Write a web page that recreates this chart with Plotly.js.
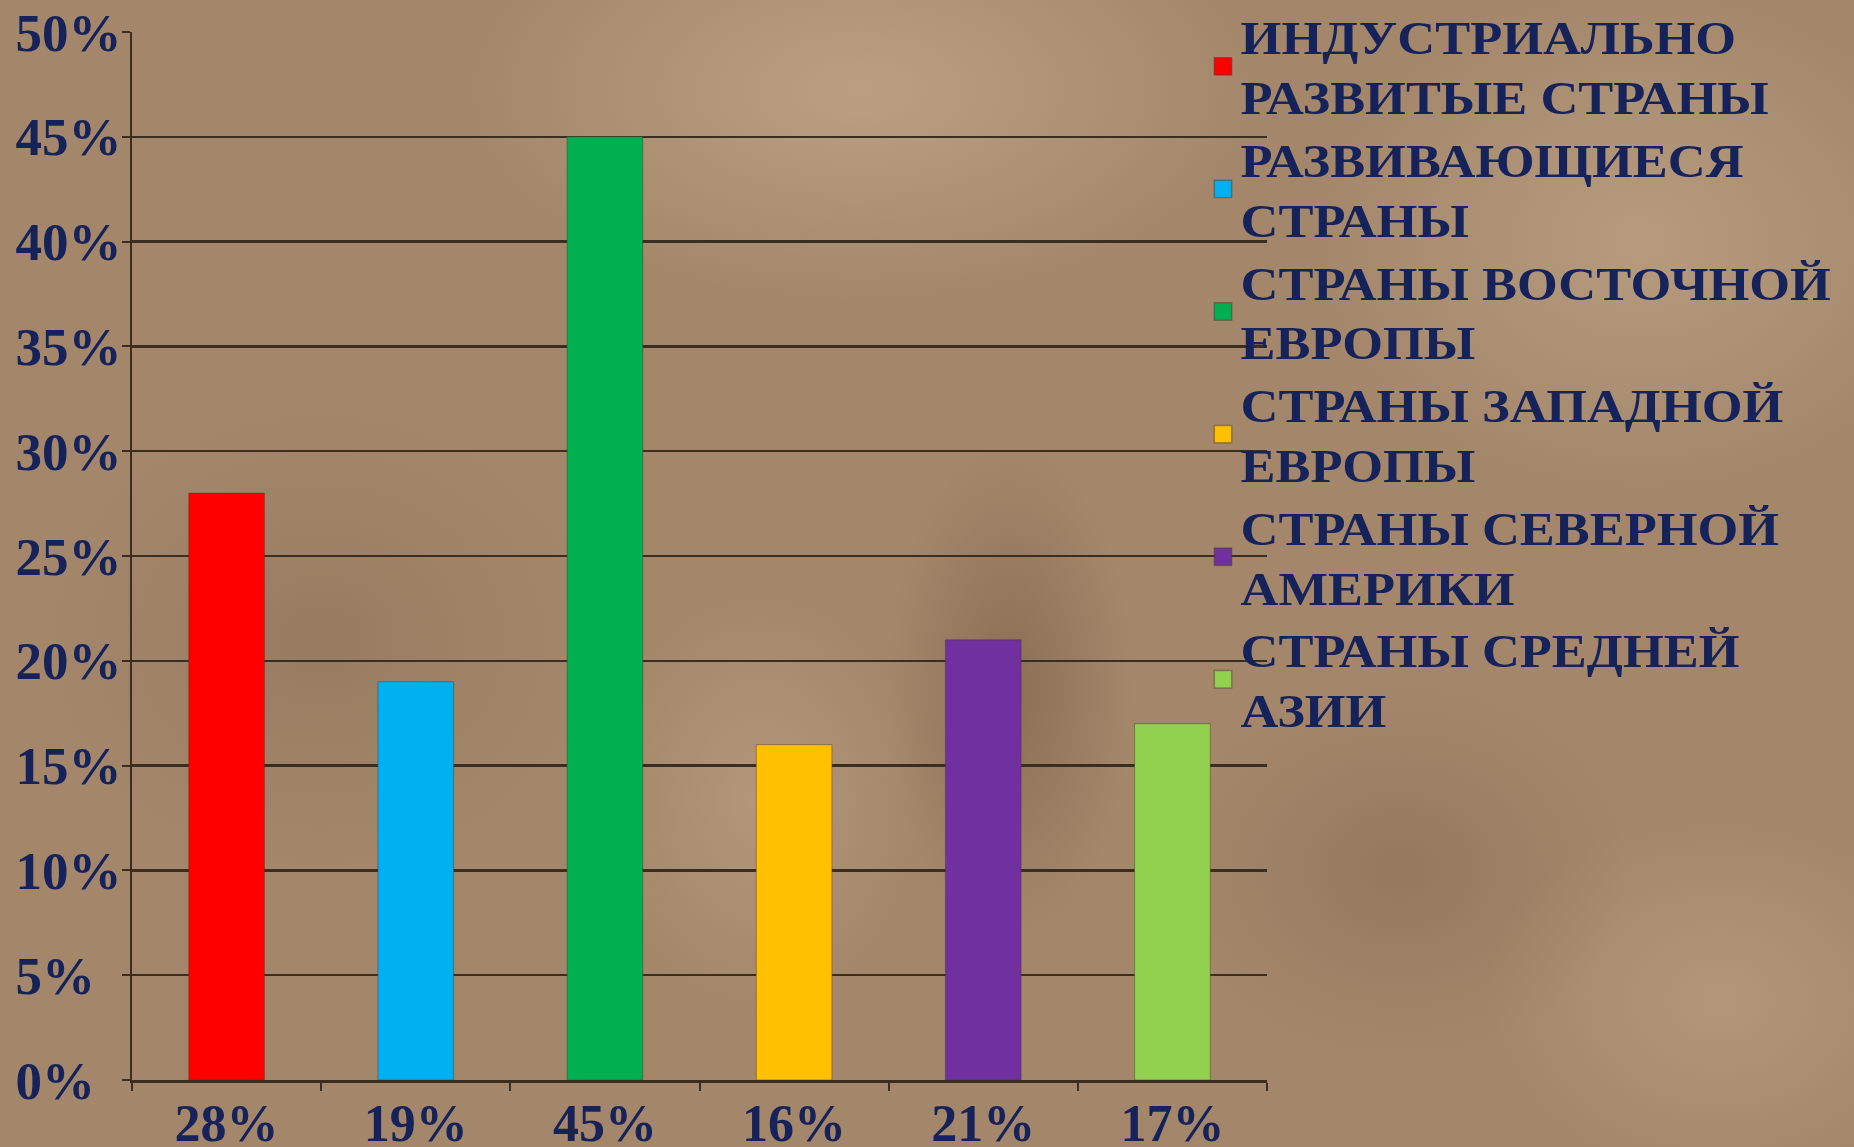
<!DOCTYPE html>
<html>
<head>
<meta charset="utf-8">
<script src="https://cdn.plot.ly/plotly-3.0.1.min.js"></script>
<style>
  html, body { margin: 0; padding: 0; }
  body {
    width: 1854px; height: 1147px; overflow: hidden;
    /* rough suede / paper look of the slide */
    background:
      radial-gradient(ellipse 560px 300px at 860px 90px, rgba(205,180,150,0.55), rgba(205,180,150,0) 72%),
      radial-gradient(ellipse 460px 360px at 1640px 240px, rgba(200,175,145,0.5), rgba(200,175,145,0) 72%),
      radial-gradient(ellipse 170px 340px at 1010px 690px, rgba(85,60,40,0.32), rgba(85,60,40,0) 72%),
      radial-gradient(ellipse 320px 260px at 1400px 870px, rgba(95,70,50,0.22), rgba(95,70,50,0) 72%),
      radial-gradient(ellipse 230px 300px at 760px 800px, rgba(200,175,145,0.4), rgba(200,175,145,0) 72%),
      radial-gradient(ellipse 380px 320px at 320px 640px, rgba(115,90,66,0.25), rgba(115,90,66,0) 72%),
      radial-gradient(ellipse 330px 260px at 1720px 1000px, rgba(200,175,145,0.4), rgba(200,175,145,0) 72%),
      #a4876b;
  }
  #chart { width: 1854px; height: 1147px; }
  /* the slide text is a bit wider than Liberation Serif */
  .legend .legendtext { transform: scaleX(1.14); }
  .legend [clip-path] { clip-path: none !important; }
  .legend .legendpoints path { transform: translate(28px, 0px) scale(1.45); }
</style>
</head>
<body>
<div id="chart"></div>
<script>
/* chart data */
var categories = ['28%', '19%', '45%', '16%', '21%', '17%'];
var values = [28, 19, 45, 16, 21, 17];
var seriesNames = [
    'ИНДУСТРИАЛЬНО<br>РАЗВИТЫЕ СТРАНЫ',
    'РАЗВИВАЮЩИЕСЯ<br>СТРАНЫ',
    'СТРАНЫ ВОСТОЧНОЙ<br>ЕВРОПЫ',
    'СТРАНЫ ЗАПАДНОЙ<br>ЕВРОПЫ',
    'СТРАНЫ СЕВЕРНОЙ<br>АМЕРИКИ',
    'СТРАНЫ СРЕДНЕЙ<br>АЗИИ'
];
var barColors = ['#ff0000', '#00b0f0', '#00b050', '#ffc000', '#7030a0', '#92d050'];
var yTickVals = [0, 5, 10, 15, 20, 25, 30, 35, 40, 45, 50];
// figure space keeps the one digit labels flush left like the original
var yTickText = ['0%\u2007', '5%\u2007', '10%', '15%', '20%', '25%', '30%', '35%', '40%', '45%', '50%'];

const NAVY = '#15235a';
const LINE = '#3a2e22';
const FONT = 'Liberation Serif, serif';

var traces = [];
for (var i = 0; i < categories.length; i++) {
    traces.push({
        type: 'bar',
        x: [categories[i]],
        y: [values[i]],
        name: seriesNames[i],
        width: 0.4,
        marker: {color: barColors[i], line: {color: 'rgba(70,55,40,0.45)', width: 1}},
        hoverinfo: 'skip'
    });
}

var layout = {
    width: 1854,
    height: 1147,
    margin: {l: 132, r: 587, t: 32, b: 67, autoexpand: false},
    paper_bgcolor: 'rgba(0,0,0,0)',
    plot_bgcolor: 'rgba(0,0,0,0)',
    barmode: 'overlay',
    font: {family: FONT, color: NAVY},
    xaxis: {
        type: 'category',
        categoryorder: 'array',
        categoryarray: categories,
        showline: true,
        linecolor: LINE,
        linewidth: 3,
        ticks: 'outside',
        tickson: 'boundaries',
        ticklen: 8,
        tickwidth: 2,
        tickcolor: LINE,
        showgrid: false,
        ticklabelstandoff: -4,
        tickfont: {size: 52, weight: 'bold', color: NAVY, family: FONT}
    },
    yaxis: {
        range: [0, 50],
        tickvals: yTickVals,
        ticktext: yTickText,
        showline: true,
        linecolor: LINE,
        linewidth: 2,
        ticks: 'outside',
        ticklen: 8,
        tickwidth: 2,
        tickcolor: LINE,
        showgrid: true,
        gridcolor: LINE,
        gridwidth: 2.5,
        zeroline: false,
        ticklabelstandoff: -10,
        tickfont: {size: 53, weight: 'bold', color: NAVY, family: FONT}
    },
    legend: {
        xref: 'container',
        yref: 'container',
        x: 1195 / 1854,
        y: 1,
        xanchor: 'left',
        yanchor: 'top',
        maxheight: 1,
        bgcolor: 'rgba(0,0,0,0)',
        itemwidth: 30,
        tracegroupgap: 0,
        font: {size: 46, weight: 'bold', color: NAVY, family: FONT}
    },
    showlegend: true
};

Plotly.newPlot('chart', traces, layout, {staticPlot: true, displayModeBar: false});
</script>
</body>
</html>
